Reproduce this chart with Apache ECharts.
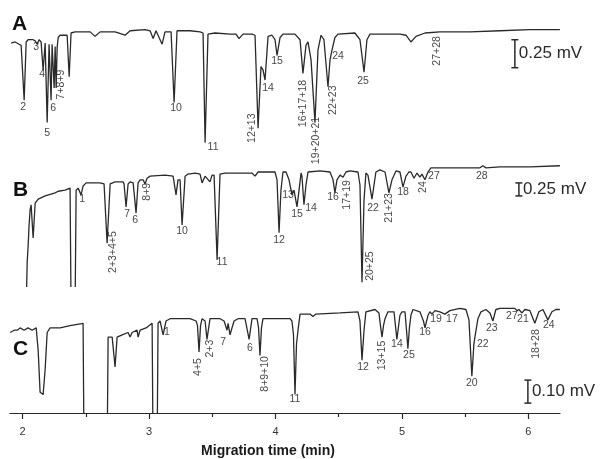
<!DOCTYPE html>
<html>
<head>
<meta charset="utf-8">
<script src="https://cdn.jsdelivr.net/npm/echarts@6/dist/echarts.min.js"></script>
<style>
html, body { margin: 0; background: #fff; }
#main { width: 602px; height: 459px; }
</style>
</head>
<body>
<div id="main"></div>
<script>
// electropherograms, [migration time (min), signal (mV)]
var traceA = [
  [1.909,-0.09],[1.941,-0.08],[1.972,-0.10],[1.988,-0.11],[1.996,-0.12],[2.012,-0.60],[2.028,-0.08],[2.043,-0.06],
  [2.083,-0.06],[2.099,-0.07],[2.115,-0.10],[2.130,-0.06],[2.146,-0.08],[2.162,-0.33],[2.178,-0.09],[2.194,-0.80],
  [2.209,-0.10],[2.225,-0.60],[2.233,-0.10],[2.249,-0.49],[2.257,-0.12],[2.265,-0.49],[2.273,-0.13],[2.281,-0.04],
  [2.296,-0.02],[2.352,-0.02],[2.368,-0.39],[2.383,0.00],[2.415,0.01],[2.534,0.01],[2.573,-0.03],[2.613,0.01],
  [2.731,0.01],[2.810,-0.02],[2.850,0.02],[2.968,0.03],[3.008,0.02],[3.032,-0.05],[3.055,0.02],[3.103,-0.10],
  [3.126,0.01],[3.174,0.01],[3.198,-0.62],[3.221,0.02],[3.324,0.02],[3.403,0.01],[3.427,0.00],[3.443,-0.98],
  [3.466,-0.01],[3.522,0.00],[3.640,-0.01],[3.688,-0.01],[3.711,-0.05],[3.743,-0.01],[3.814,-0.01],[3.838,-0.02],
  [3.862,-0.85],[3.885,-0.30],[3.901,-0.33],[3.917,-0.42],[3.941,-0.03],[3.972,-0.02],[3.996,-0.06],[4.012,-0.20],
  [4.036,-0.04],[4.059,-0.01],[4.154,-0.01],[4.194,-0.06],[4.217,-0.36],[4.241,-0.11],[4.257,-0.08],[4.281,-0.24],
  [4.312,-0.80],[4.336,-0.15],[4.360,-0.02],[4.383,-0.06],[4.415,-0.48],[4.431,-0.24],[4.447,-0.15],[4.470,-0.04],
  [4.494,-0.01],[4.628,0.00],[4.668,-0.06],[4.700,-0.35],[4.723,-0.06],[4.747,-0.01],[4.984,-0.01],[5.032,-0.02],
  [5.071,-0.08],[5.111,-0.03],[5.182,0.00],[5.300,0.01],[5.538,0.01],[5.775,0.02],[6.012,0.03],[6.249,0.03]
];
var traceB = [
  [2.028,-2.6],[2.036,-1.73],[2.043,-1.44],[2.051,-1.02],[2.059,-0.73],[2.067,-0.63],[2.083,-1.27],[2.099,-0.60],
  [2.123,-0.52],[2.178,-0.46],[2.257,-0.40],[2.281,-0.37],[2.296,-0.38],[2.336,-0.35],[2.375,-0.31],[2.383,-2.6],
  [2.415,-2.6],[2.423,-0.35],[2.439,-0.31],[2.462,-0.44],[2.478,-0.27],[2.502,-0.21],[2.613,-0.21],[2.644,-0.23],
  [2.668,-1.37],[2.692,-0.23],[2.731,-0.19],[2.794,-0.19],[2.802,-0.23],[2.818,-0.67],[2.834,-0.23],[2.850,-0.19],
  [2.874,-0.21],[2.897,-0.79],[2.913,-0.21],[2.929,-0.15],[2.953,-0.15],[2.968,-0.23],[2.984,-0.12],[3.008,-0.08],
  [3.126,-0.06],[3.190,-0.08],[3.213,-0.44],[3.229,-0.15],[3.245,-0.15],[3.261,-1.02],[3.285,-0.08],[3.308,-0.04],
  [3.364,-0.02],[3.403,-0.04],[3.419,-0.21],[3.443,-0.08],[3.458,-0.08],[3.482,-0.19],[3.498,-0.06],[3.514,-0.06],
  [3.538,-1.69],[3.561,-0.04],[3.601,-0.02],[3.719,-0.02],[3.814,-0.02],[3.838,-0.08],[3.862,0.00],[3.996,0.00],
  [4.012,-0.15],[4.028,-1.17],[4.043,-0.35],[4.059,0.00],[4.083,0.00],[4.107,-0.15],[4.130,-0.44],[4.146,-0.35],
  [4.170,-0.67],[4.186,-0.35],[4.202,-0.02],[4.209,-0.08],[4.225,-0.63],[4.241,-0.25],[4.257,0.00],[4.352,0.02],
  [4.431,0.00],[4.455,-0.15],[4.470,-0.40],[4.486,-0.15],[4.510,-0.06],[4.534,-0.10],[4.557,0.00],[4.589,0.02],
  [4.652,0.00],[4.668,-0.25],[4.684,-2.12],[4.700,-0.54],[4.715,-0.02],[4.731,-0.06],[4.763,-0.52],[4.779,-0.25],
  [4.794,0.00],[4.826,0.04],[4.866,0.00],[4.897,-0.40],[4.921,-0.15],[4.953,0.02],[4.984,0.00],[5.008,-0.29],
  [5.032,-0.08],[5.055,0.00],[5.071,0.00],[5.095,-0.12],[5.119,-0.02],[5.142,-0.10],[5.158,-0.04],[5.182,-0.15],
  [5.206,0.00],[5.229,0.08],[5.340,0.08],[5.538,0.08],[5.617,0.08],[5.640,0.12],[5.664,0.08],[5.775,0.10],
  [6.012,0.10],[6.249,0.12]
];
var traceC = [
  [1.901,-0.05],[1.933,-0.04],[1.957,-0.04],[1.980,-0.03],[2.012,-0.04],[2.043,-0.03],[2.075,-0.04],[2.107,-0.03],
  [2.123,-0.13],[2.138,-0.31],[2.162,-0.32],[2.178,-0.21],[2.194,-0.05],[2.217,-0.03],[2.296,-0.03],[2.375,-0.02],
  [2.478,-0.01],[2.486,-0.6],[2.668,-0.6],[2.676,-0.07],[2.708,-0.07],[2.723,-0.07],[2.731,-0.20],[2.747,-0.07],
  [2.787,-0.06],[2.834,-0.05],[2.850,-0.07],[2.866,-0.05],[2.905,-0.04],[2.913,-0.07],[2.929,-0.04],[2.976,-0.03],
  [3.024,-0.01],[3.032,-0.6],[3.063,-0.6],[3.071,-0.01],[3.087,0.00],[3.111,-0.06],[3.134,0.00],[3.166,0.01],
  [3.324,0.01],[3.372,0.00],[3.383,-0.02],[3.395,-0.135],[3.407,-0.02],[3.419,0.01],[3.443,0.00],[3.458,-0.08],
  [3.482,0.01],[3.561,0.01],[3.593,0.00],[3.617,-0.04],[3.625,-0.01],[3.640,-0.06],[3.672,0.00],[3.704,0.01],
  [3.759,0.01],[3.791,-0.08],[3.814,0.01],[3.854,0.01],[3.866,-0.03],[3.877,-0.15],[3.889,-0.03],[3.901,0.01],
  [3.957,0.01],[4.115,0.01],[4.130,0.00],[4.142,-0.06],[4.154,-0.32],[4.166,-0.10],[4.178,-0.04],[4.194,0.03],
  [4.273,0.03],[4.296,0.02],[4.320,0.03],[4.510,0.035],[4.652,0.04],[4.668,0.00],[4.684,-0.17],[4.700,-0.04],
  [4.715,0.04],[4.787,0.05],[4.818,0.035],[4.830,-0.02],[4.842,-0.07],[4.854,-0.02],[4.866,0.01],[4.889,0.04],
  [4.937,0.04],[4.960,-0.08],[4.984,0.025],[5.000,0.04],[5.024,0.04],[5.036,-0.04],[5.047,-0.12],[5.059,-0.03],
  [5.071,0.025],[5.087,0.05],[5.142,0.04],[5.170,0.00],[5.182,-0.03],[5.206,0.025],[5.221,0.04],[5.237,0.03],
  [5.261,0.045],[5.300,0.04],[5.340,0.03],[5.379,0.045],[5.458,0.055],[5.506,0.05],[5.530,0.005],[5.553,-0.24],
  [5.569,-0.10],[5.577,-0.07],[5.601,0.01],[5.625,0.04],[5.664,0.05],[5.696,0.035],[5.719,0.00],[5.743,0.05],
  [5.775,0.055],[5.893,0.055],[5.909,0.045],[5.925,0.05],[5.949,0.035],[5.972,0.05],[6.012,0.045],[6.051,-0.01],
  [6.083,0.04],[6.115,0.05],[6.154,0.005],[6.186,0.04],[6.217,0.05],[6.249,0.05]
];

// peak labels: [time, signal, text]
var peaksA = [
  [2.004,-0.66,'2'],[2.107,-0.13,'3'],[2.154,-0.37,'4'],[2.194,-0.89,'5'],[2.241,-0.67,'6'],[2.304,-0.46,'7+8+9'],
  [3.213,-0.67,'10'],[3.506,-1.02,'11'],[3.814,-0.85,'12+13'],[3.941,-0.49,'14'],[4.012,-0.25,'15'],
  [4.217,-0.63,'16+17+18'],[4.320,-0.96,'19+20+21'],[4.455,-0.60,'22+23'],[4.494,-0.21,'24'],[4.692,-0.43,'25'],
  [5.277,-0.16,'27+28']
];
var peaksB = [
  [2.470,-0.52,'1'],[2.715,-1.54,'2+3+4+5'],[2.826,-0.81,'7'],[2.889,-0.92,'6'],[2.984,-0.38,'8+9'],
  [3.261,-1.13,'10'],[3.577,-1.73,'11'],[4.028,-1.31,'12'],[4.099,-0.44,'13'],[4.170,-0.81,'15'],[4.281,-0.69,'14'],
  [4.455,-0.48,'16'],[4.565,-0.44,'17+19'],[4.747,-1.81,'20+25'],[4.771,-0.69,'22'],[4.897,-0.69,'21+23'],
  [5.008,-0.38,'18'],[5.166,-0.29,'24'],[5.253,-0.08,'27'],[5.632,-0.08,'28']
];
var peaksC = [
  [3.142,-0.05,'1'],[3.387,-0.20,'4+5'],[3.482,-0.12,'2+3'],[3.585,-0.09,'7'],[3.798,-0.12,'6'],
  [3.917,-0.23,'8+9+10'],[4.154,-0.34,'11'],[4.692,-0.20,'12'],[4.842,-0.15,'13+15'],[4.960,-0.10,'14'],
  [5.055,-0.15,'25'],[5.182,-0.05,'16'],[5.269,0.01,'19'],[5.395,0.01,'17'],[5.553,-0.27,'20'],[5.640,-0.10,'22'],
  [5.711,-0.03,'23'],[5.870,0.02,'27'],[5.957,0.01,'21'],[6.059,-0.10,'18+28'],[6.162,-0.02,'24']
];
// written upright although single peak: B "24"
var uprightB = ['24'];

// scale bars: [time, top, bottom, text]
var barA = [[5.893,-0.06,-0.31,'0.25 mV']];
var barB = [[5.925,-0.21,-0.46,'0.25 mV']];
var barC = [[5.996,-0.257,-0.357,'0.10 mV']];

var xTicks = [2,3,4,5,6];
var xHalfTicks = [2.5,3.5,4.5,5.5];
var xMin = 1.9, xMax = 6.25;

var ink = '#2a2a2a';
var chart = echarts.init(document.getElementById('main'));

function labelData(list, upright) {
  return list.map(function (p) {
    var rot = p[2].indexOf('+') >= 0 || (upright && upright.indexOf(p[2]) >= 0);
    return { value: [p[0], p[1]], name: p[2], label: { rotate: rot ? 90 : 0 } };
  });
}

function barItem(params, api) {
  var t = api.coord([api.value(0), api.value(1)]);
  var b = api.coord([api.value(0), api.value(2)]);
  var st = { stroke: ink, lineWidth: 1.5 };
  return {
    type: 'group',
    children: [
      { type: 'line', shape: { x1: t[0], y1: t[1], x2: b[0], y2: b[1] }, style: st },
      { type: 'line', shape: { x1: t[0] - 3.5, y1: t[1], x2: t[0] + 3.5, y2: t[1] }, style: st },
      { type: 'line', shape: { x1: b[0] - 3.5, y1: b[1], x2: b[0] + 3.5, y2: b[1] }, style: st },
      { type: 'text', x: t[0] + 4, y: (t[1] + b[1]) / 2,
        style: { text: api.value(3), font: '17px Arial', fill: ink, verticalAlign: 'middle' } }
    ]
  };
}

var barDims = ['t', 'top', 'bottom', { name: 'txt', type: 'ordinal' }];

var grids = [
  { left: 10, right: 42, top: 10.6, height: 145.6 },
  { left: 10, right: 42, top: 151.2, height: 135.2 },
  { left: 10, right: 42, top: 298, height: 115 }
];

var hiddenX = function (i) {
  return { type: 'value', gridIndex: i, min: xMin, max: xMax, show: false };
};

var option = {
  animation: false,
  backgroundColor: '#fff',
  grid: grids,
  xAxis: [
    hiddenX(0),
    hiddenX(1),
    {
      type: 'value', gridIndex: 2, min: xMin, max: xMax, position: 'bottom',
      name: 'Migration time (min)', nameLocation: 'middle', nameGap: 31,
      nameTextStyle: { fontFamily: 'Arial', fontSize: 14, fontWeight: 'bold', color: '#1a1a1a', padding: [0, 34, 0, 0] },
      axisLine: { onZero: false, lineStyle: { color: ink, width: 1.2 } },
      axisTick: { inside: false, length: 6, lineStyle: { color: ink, width: 1.2 }, customValues: xTicks },
      axisLabel: { margin: 13, fontFamily: 'Arial', fontSize: 11, color: '#333', customValues: xTicks },
      splitLine: { show: false }
    },
    {
      type: 'value', gridIndex: 2, min: xMin, max: xMax, position: 'bottom',
      axisLine: { show: false, onZero: false },
      axisTick: { length: 4, lineStyle: { color: ink, width: 1.2 }, customValues: xHalfTicks },
      axisLabel: { show: false },
      splitLine: { show: false }
    }
  ],
  yAxis: [
    { type: 'value', gridIndex: 0, min: -1.1, max: 0.2, show: false },
    { type: 'value', gridIndex: 1, min: -2.2, max: 0.4, show: false },
    { type: 'value', gridIndex: 2, min: -0.4, max: 0.1, show: false }
  ],
  graphic: [
    { type: 'text', left: 12, top: 14, style: { text: 'A', font: 'bold 21px Arial', fill: '#111' } },
    { type: 'text', left: 13, top: 180, style: { text: 'B', font: 'bold 21px Arial', fill: '#111' } },
    { type: 'text', left: 13, top: 339, style: { text: 'C', font: 'bold 21px Arial', fill: '#111' } }
  ],
  series: []
};

var traces = [traceA, traceB, traceC];
var peaks = [labelData(peaksA), labelData(peaksB, uprightB), labelData(peaksC)];
var bars = [barA, barB, barC];
var xIdx = [0, 1, 2];

for (var i = 0; i < 3; i++) {
  option.series.push({
    type: 'line', xAxisIndex: xIdx[i], yAxisIndex: i, data: traces[i],
    showSymbol: false, clip: true, silent: true,
    lineStyle: { color: ink, width: 1.3 }
  });
  option.series.push({
    type: 'scatter', xAxisIndex: xIdx[i], yAxisIndex: i, data: peaks[i],
    symbolSize: 1, clip: false, silent: true,
    itemStyle: { color: 'transparent' },
    label: {
      show: true, position: 'inside', formatter: '{b}',
      fontFamily: 'Arial', fontSize: 10.5, color: '#111'
    }
  });
  option.series.push({
    type: 'custom', xAxisIndex: xIdx[i], yAxisIndex: i, data: bars[i],
    dimensions: barDims, renderItem: barItem, clip: false, silent: true
  });
}

chart.setOption(option);
</script>
</body>
</html>
